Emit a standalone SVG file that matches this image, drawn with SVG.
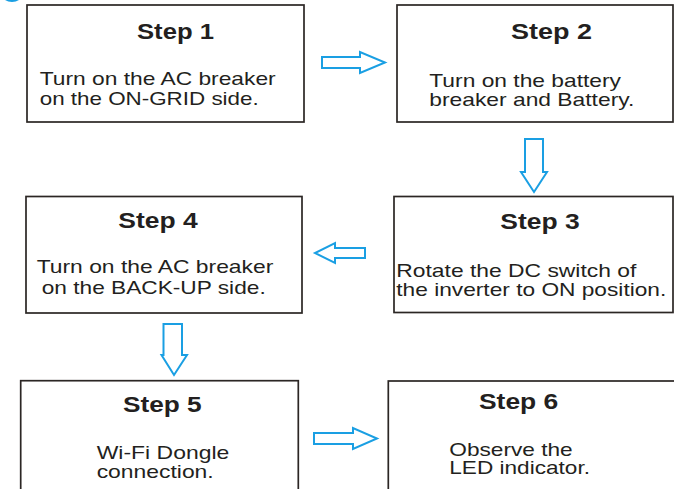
<svg xmlns="http://www.w3.org/2000/svg" width="674" height="489" viewBox="0 0 674 489">
<style>
.box{fill:#fff;stroke:#2b2624;stroke-width:1.7}
.t{font-family:"Liberation Sans",Arial,sans-serif;font-weight:bold;font-size:21.5px;fill:#231f20}
.b{font-family:"Liberation Sans",Arial,sans-serif;font-size:19px;fill:#231f20}
.arr{fill:#fff;stroke:#1a9fe3;stroke-width:2;stroke-linejoin:miter}
</style>
<rect width="674" height="489" fill="#fff"/>
<circle cx="12" cy="-11" r="13" fill="#1a9fe3"/>
<g id="step1">
<rect class="box" x="27" y="5" width="277" height="117"/>
<text class="t" x="137" y="38.5" textLength="77" lengthAdjust="spacingAndGlyphs">Step 1</text>
<text class="b" x="39.7" y="85" textLength="236" lengthAdjust="spacingAndGlyphs">Turn on the AC breaker</text>
<text class="b" x="39.7" y="105" textLength="219" lengthAdjust="spacingAndGlyphs">on the ON-GRID side.</text>
</g>
<g id="step2">
<rect class="box" x="397" y="5" width="276" height="117"/>
<text class="t" x="511" y="39" textLength="81" lengthAdjust="spacingAndGlyphs">Step 2</text>
<text class="b" x="429.3" y="86.5" textLength="191.7" lengthAdjust="spacingAndGlyphs">Turn on the battery</text>
<text class="b" x="429.3" y="105.7" textLength="205" lengthAdjust="spacingAndGlyphs">breaker and Battery.</text>
</g>
<g id="step3">
<rect class="box" x="394" y="196.5" width="279" height="116"/>
<text class="t" x="500.3" y="229.3" textLength="79.4" lengthAdjust="spacingAndGlyphs">Step 3</text>
<text class="b" x="396.3" y="277" textLength="240" lengthAdjust="spacingAndGlyphs">Rotate the DC switch of</text>
<text class="b" x="396.3" y="296" textLength="270" lengthAdjust="spacingAndGlyphs">the inverter to ON position.</text>
</g>
<g id="step4">
<rect class="box" x="26" y="196.5" width="276" height="116.5"/>
<text class="t" x="118.3" y="228.3" textLength="79.4" lengthAdjust="spacingAndGlyphs">Step 4</text>
<text class="b" x="36.7" y="273.3" textLength="236.6" lengthAdjust="spacingAndGlyphs">Turn on the AC breaker</text>
<text class="b" x="41.7" y="293.7" textLength="224" lengthAdjust="spacingAndGlyphs">on the BACK-UP side.</text>
</g>
<g id="step5">
<rect class="box" x="20.7" y="380.7" width="277.6" height="120"/>
<text class="t" x="123" y="412.3" textLength="78.7" lengthAdjust="spacingAndGlyphs">Step 5</text>
<text class="b" x="96.7" y="459" textLength="132.6" lengthAdjust="spacingAndGlyphs">Wi-Fi Dongle</text>
<text class="b" x="96.7" y="478" textLength="117" lengthAdjust="spacingAndGlyphs">connection.</text>
</g>
<g id="step6">
<rect class="box" x="388.3" y="381" width="290" height="120"/>
<text class="t" x="479" y="409" textLength="79.3" lengthAdjust="spacingAndGlyphs">Step 6</text>
<text class="b" x="449.3" y="455.5" textLength="123.4" lengthAdjust="spacingAndGlyphs">Observe the</text>
<text class="b" x="449.3" y="474" textLength="140.7" lengthAdjust="spacingAndGlyphs">LED indicator.</text>
</g>
<g id="connectors">
<polygon class="arr" points="322,57 360,57 360,52 385,62.5 360,73 360,68 322,68"/>
<polygon class="arr" points="525,139 543,139 543,172 547,172 534,192 521,172 525,172"/>
<polygon class="arr" points="365,248 335,248 335,243 315,253 335,263 335,258 365,258"/>
<polygon class="arr" points="163.5,324 182,324 182,355 187,355 174,375 161.5,355 163.5,355"/>
<polygon class="arr" points="314,433 353,433 353,428 377,438.5 353,449 353,444 314,444"/>
</g>
</svg>
